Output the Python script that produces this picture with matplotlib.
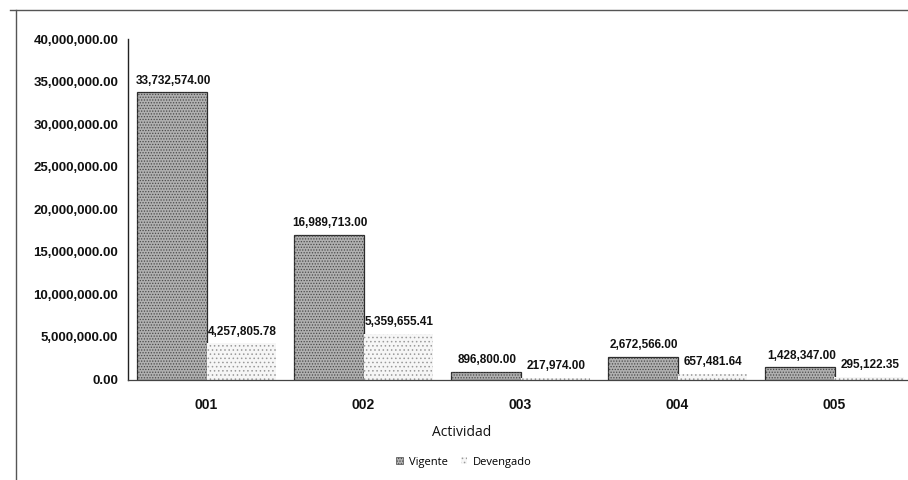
import numpy as np
import matplotlib
matplotlib.use("Agg")
import matplotlib.pyplot as plt
from matplotlib.patches import Patch
from matplotlib.lines import Line2D
from matplotlib.ticker import FuncFormatter

# data
actividades = ["001", "002", "003", "004", "005"]
vigente = [33732574.00, 16989713.00, 896800.00, 2672566.00, 1428347.00]
devengado = [4257805.78, 5359655.41, 217974.00, 657481.64, 295122.35]
y_ticks = [0, 5e6, 10e6, 15e6, 20e6, 25e6, 30e6, 35e6, 40e6]

plt.rcParams["hatch.linewidth"] = 0.6

fig = plt.figure(figsize=(9.08, 4.8), dpi=100)
# axes runs a little past the right edge, like the cropped scan
ax = fig.add_axes([128 / 908, 1 - 379.5 / 480, 785 / 908, 340.5 / 480])

x = np.arange(len(actividades))
w = 0.44

# Vigente: grey stipple with dark edges
ax.bar(x - w / 2, vigente, w, color="#b0b0b0", edgecolor="#2b2b2b", linewidth=0.9, zorder=2)
ax.bar(x - w / 2, vigente, w, color="none", edgecolor="#4a4a4a", hatch="......", linewidth=0, zorder=3)
# Devengado: near white with sparse fine dots
ax.bar(x + w / 2, devengado, w, color="#f6f6f6", edgecolor="#9a9a9a", hatch="....", linewidth=0, zorder=2)

lab_font = dict(family="Liberation Sans", weight="bold", size=8.5, color="#111111")
for i in range(len(actividades)):
    ax.annotate(f"{vigente[i]:,.2f}", (x[i] - w / 2, vigente[i]), xytext=(1, 4),
                textcoords="offset points", ha="center", va="bottom", **lab_font)
    ax.annotate(f"{devengado[i]:,.2f}", (x[i] + w / 2, devengado[i]), xytext=(1, 4),
                textcoords="offset points", ha="center", va="bottom", **lab_font)

ax.set_xlim(-0.5, len(actividades) - 0.5)
ax.set_ylim(0, 40e6)
ax.set_yticks(y_ticks)
ax.yaxis.set_major_formatter(FuncFormatter(lambda v, p: f"{v:,.2f}"))
ax.set_xticks(x)
ax.set_xticklabels(actividades)

for lab in ax.get_yticklabels():
    lab.set_fontfamily("Liberation Sans")
    lab.set_fontweight("bold")
    lab.set_fontsize(9.5)
for lab in ax.get_xticklabels():
    lab.set_fontfamily("Liberation Sans")
    lab.set_fontweight("bold")
    lab.set_fontsize(10)
ax.tick_params(axis="y", length=0, pad=7, colors="#111111")
ax.tick_params(axis="x", length=0, pad=13, colors="#111111")

for s in ["top", "right"]:
    ax.spines[s].set_visible(False)
ax.spines["left"].set_color("#222222")
ax.spines["left"].set_linewidth(1.0)
ax.spines["bottom"].set_color("#444444")
ax.spines["bottom"].set_linewidth(0.9)

ax.set_xlabel("Actividad", fontfamily="Open Sans", fontsize=10, color="#111111")
ax.xaxis.set_label_coords((462 - 128) / 785, (379.5 - 433) / 340.5)
ax.xaxis.label.set_va("center")

handles = [
    Patch(facecolor="#b0b0b0", edgecolor="#4a4a4a", hatch="......", linewidth=0.5, label="Vigente"),
    Patch(facecolor="#f6f6f6", edgecolor="#9a9a9a", hatch="....", linewidth=0, label="Devengado"),
]
fig.legend(handles=handles, loc="center", bbox_to_anchor=(464 / 908, 1 - 462 / 480), ncol=2,
           frameon=False, handlelength=0.6, handleheight=0.6, handletextpad=0.5,
           columnspacing=1.2, prop={"family": "Open Sans", "size": 8})

# outer frame of the scanned page (top and left)
fig.add_artist(Line2D([10 / 908, 1], [1 - 10 / 480] * 2, color="#555555", lw=1))
fig.add_artist(Line2D([16 / 908] * 2, [0, 1 - 10 / 480], color="#555555", lw=1))

fig.savefig("out.png", dpi=100)
